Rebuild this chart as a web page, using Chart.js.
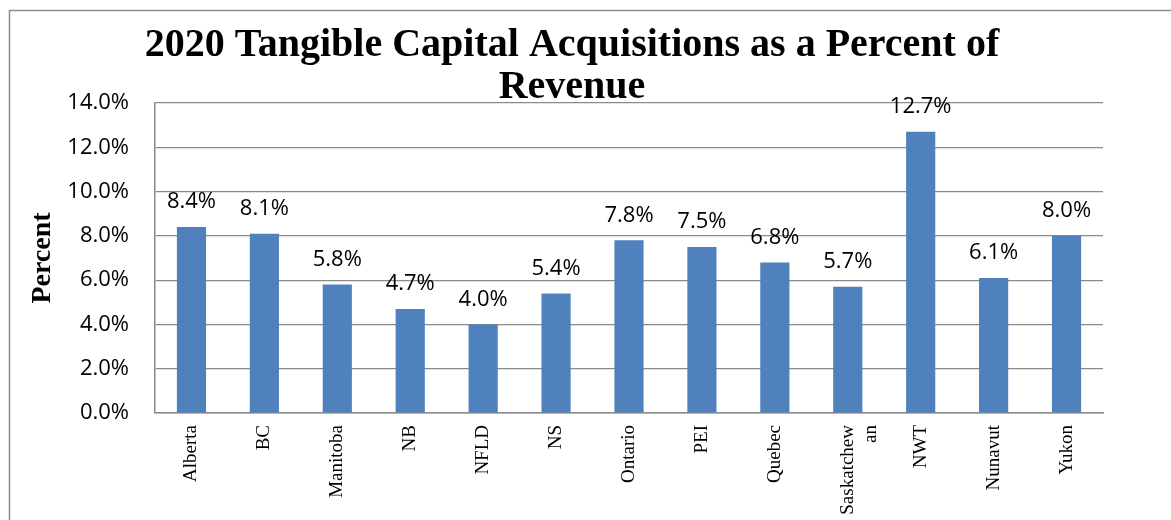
<!DOCTYPE html>
<html>
<head>
<meta charset="utf-8">
<script src="https://cdn.jsdelivr.net/npm/chart.js@4"></script>
<style>
    html, body { margin: 0; padding: 0; background: #fff; }
</style>
</head>
<body>
<canvas id="myChart" width="1171" height="520"></canvas>
<script>
// chart data
var provinces = ['Alberta', 'BC', 'Manitoba', 'NB', 'NFLD', 'NS', 'Ontario', 'PEI', 'Quebec', ['Saskatchew', 'an'], 'NWT', 'Nunavut', 'Yukon'];
var capitalPct = [8.4, 8.1, 5.8, 4.7, 4.0, 5.4, 7.8, 7.5, 6.8, 5.7, 12.7, 6.1, 8.0];
var titleLines = ['2020 Tangible Capital Acquisitions as a Percent of', 'Revenue'];
var yTitle = 'Percent';

var gridGray = '#8a8a8a';

// white page + grey frame round the chart
var frame = {
    id: 'frame',
    beforeDraw(chart) {
        var ctx = chart.ctx;
        ctx.save();
        ctx.fillStyle = '#fff';
        ctx.fillRect(0, 0, chart.width, chart.height);
        ctx.strokeStyle = '#8c8c8c';
        ctx.lineWidth = 1.5;
        ctx.beginPath();
        ctx.moveTo(9.5, chart.height);
        ctx.lineTo(9.5, 10.5);
        ctx.lineTo(chart.width, 10.5);
        ctx.stroke();
        ctx.restore();
    }
};

// two line title, centred on the frame
var bigTitle = {
    id: 'bigTitle',
    afterDraw(chart) {
        var ctx = chart.ctx;
        ctx.save();
        ctx.font = 'bold 40px "Liberation Serif"';
        ctx.fillStyle = '#000';
        ctx.textAlign = 'center';
        ctx.textBaseline = 'alphabetic';
        ctx.fillText(titleLines[0], 572, 56);
        ctx.fillText(titleLines[1], 572, 98);
        ctx.restore();
    }
};

// value labels above each bar
var barLabels = {
    id: 'barLabels',
    afterDatasetsDraw(chart) {
        var ctx = chart.ctx;
        var meta = chart.getDatasetMeta(0);
        ctx.save();
        ctx.font = '22px "Open Sans"';
        ctx.fillStyle = '#000';
        ctx.textAlign = 'center';
        ctx.textBaseline = 'middle';
        meta.data.forEach(function(bar, i) {
            ctx.fillText(capitalPct[i].toFixed(1) + '%', bar.x, bar.y - 25);
        });
        ctx.restore();
    }
};

var config = {
    type: 'bar',
    data: {
        labels: provinces,
        datasets: [{
            label: 'Percent',
            data: capitalPct,
            backgroundColor: '#4f81bd',
            borderWidth: 0,
            categoryPercentage: 1.0,
            barPercentage: 0.4
        }]
    },
    options: {
        responsive: false,
        animation: false,
        layout: {
            padding: {top: 103, right: 68, bottom: 0, left: 0}
        },
        plugins: {
            legend: {display: false},
            title: {display: false},
            tooltip: {enabled: false}
        },
        scales: {
            x: {
                grid: {display: false, drawTicks: false},
                border: {display: true, color: gridGray, width: 1.5},
                ticks: {
                    autoSkip: false,
                    minRotation: 90,
                    maxRotation: 90,
                    padding: 12,
                    color: '#000',
                    font: {family: 'Liberation Serif', size: 19}
                },
                afterFit: function(scale) { scale.height = 107; }
            },
            y: {
                min: 0,
                max: 14,
                grid: {color: gridGray, lineWidth: 1.2, drawTicks: false},
                border: {display: true, color: gridGray, width: 1.5},
                ticks: {
                    stepSize: 2,
                    padding: 26,
                    color: '#000',
                    font: {family: 'Open Sans', size: 22},
                    callback: function(v) { return v.toFixed(1) + '%'; }
                },
                title: {
                    display: true,
                    text: yTitle,
                    color: '#000',
                    padding: {top: 26, bottom: 0},
                    font: {family: 'Liberation Serif', size: 28, weight: 'bold'}
                },
                afterFit: function(scale) { scale.width = 155; }
            }
        }
    },
    plugins: [frame, barLabels, bigTitle]
};

var capChart = new Chart(document.getElementById('myChart'), config);
</script>
</body>
</html>
